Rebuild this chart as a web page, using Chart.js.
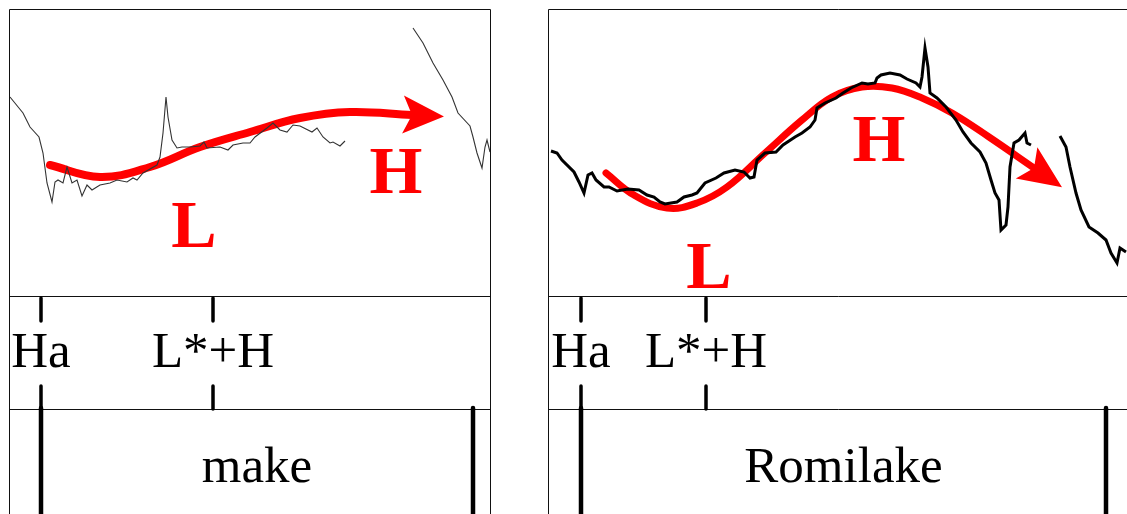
<!DOCTYPE html>
<html><head>
<meta charset="utf-8">
<style>
  html, body { margin: 0; padding: 0; background: #fff; }
  canvas { position: absolute; top: 0; }
  #leftPanel { left: 0; }
  #rightPanel { left: 540px; }
</style>
</head>
<body>
<canvas id="leftPanel" width="500" height="514"></canvas>
<canvas id="rightPanel" width="587" height="514"></canvas>
<script src="https://cdn.jsdelivr.net/npm/chart.js@4/dist/chart.umd.min.js"></script>
<script>
// time in ms, pitch in Hz

// "make" - pitch track, two voiced stretches
var makeT1 = [1,14,21,30,34,38,43,46,49,54,58,63,68,73,78,83,91,101,108,118,124,128,134,148,151,154,157,159,163,168,173,181,191,195,198,211,219,224,234,241,246,258,264,271,278,284,291,303,308,314,321,324,331,336];
var makeHz1 = [249,233,219,209,193,163,144,164,166,163,179,163,166,150,161,156,161,163,166,164,168,166,173,181,189,213,249,229,206,198,199,199,200,204,198,199,196,201,203,203,209,218,223,216,214,221,220,214,218,209,203,204,200,205];
var makeT2 = [404,414,424,434,443,449,461,464,468,473,476,478,481];
var makeHz2 = [318,303,283,266,249,233,220,209,193,178,199,206,194];
// "make" - stylised L*+H contour (arrow)
var makeArrowT = [41,91,141,191,241,291,341,403];
var makeArrowHz = [181,169,179,199,214,228,234,231];

// "Romilake" - pitch track
var romT1 = [3,9,14,26,31,36,40,44,48,56,61,69,80,91,99,106,112,117,129,136,144,149,157,168,176,187,196,202,206,209,217,228,235,247,254,262,267,269,277,288,295,303,314,320,327,329,333,342,352,359,368,372,374,377,380,382,389,398,408,415,423,432,438,443,447,451,453,458,460,462,466,471,477,479,483];
var romHz1 = [195,193,186,174,164,153,171,173,166,159,159,155,157,156,151,149,144,142,144,149,151,153,163,168,173,176,174,168,169,186,193,194,201,209,213,219,226,238,243,248,253,258,263,262,263,268,271,273,271,267,263,259,269,298,279,253,248,239,226,214,203,194,183,166,153,146,116,121,139,179,203,206,213,203,201];
var romT2 = [512,518,522,528,533,541,550,558,563,569,572,578];
var romHz2 = [210,199,179,153,136,119,113,106,93,83,98,94];
var romArrowT = [58,86,119,149,179,217,254,284,314,344,374,404,441,486];
var romArrowHz = [173,151,138,143,159,193,226,249,259,258,248,233,209,178];

// annotation tiers
var makeTones = ['Ha', 'L*+H'];
var makeToneT = [32, 204];
var makeWordBounds = [32, 464];
var makeWord = 'make';
var romTones = ['Ha', 'L*+H'];
var romToneT = [33, 158];
var romWordBounds = [33, 558];
var romWord = 'Romilake';

// red H / L letters on the contour
var makeLetters = ['L', 'H'];
var makeLetterT = [185, 387];
var makeLetterHz = [99, 153];
var romLetters = ['L', 'H'];
var romLetterT = [161, 331];
var romLetterHz = [58, 185];

function pts(ts, hz) {
  return ts.map(function(t, i) { return {x: t, y: hz[i]}; });
}
function track(t1, h1, t2, h2) {
  return pts(t1, h1).concat([{x: (t1[t1.length-1] + t2[0]) / 2, y: null}], pts(t2, h2));
}

var praatPlugin = {
  id: 'praat',
  afterDraw: function(chart, args, o) {
    var ctx = chart.ctx, a = chart.chartArea, x = chart.scales.x, y = chart.scales.y;
    var t1 = a.bottom, t2 = a.bottom + 113, end = chart.height + 5;
    var L = Math.round(a.left) + 0.5, R = o.rightEdge ? Math.round(a.right) - 0.5 : chart.width + 2;
    ctx.save();

    // arrow head on the stylised contour
    var meta = chart.getDatasetMeta(1).data;
    var P = meta[meta.length - 1], Q = meta[meta.length - 2];
    var dx = P.x - Q.x, dy = P.y - Q.y, len = Math.sqrt(dx*dx + dy*dy);
    dx /= len; dy /= len;
    var nx = -dy, ny = dx, hl = o.headLen, hw = o.headWidth;
    ctx.fillStyle = '#ff0000';
    ctx.beginPath();
    ctx.moveTo(P.x + dx*hl, P.y + dy*hl);
    ctx.lineTo(P.x - dx*9 + nx*hw, P.y - dy*9 + ny*hw);
    ctx.lineTo(P.x, P.y);
    ctx.lineTo(P.x - dx*9 - nx*hw, P.y - dy*9 - ny*hw);
    ctx.closePath();
    ctx.fill();

    // red tone letters
    ctx.font = 'bold 68px "Liberation Serif"';
    ctx.textAlign = 'center';
    ctx.textBaseline = 'alphabetic';
    o.letters.forEach(function(s, i) {
      ctx.fillText(s, x.getPixelForValue(o.letterT[i]), y.getPixelForValue(o.letterHz[i]));
    });

    // frame and tier lines
    ctx.strokeStyle = '#111';
    ctx.lineWidth = 1;
    ctx.beginPath();
    ctx.moveTo(L, end); ctx.lineTo(L, Math.round(a.top) + 0.5); ctx.lineTo(R, Math.round(a.top) + 0.5);
    if (o.rightEdge) ctx.lineTo(R, end);
    ctx.moveTo(L, t1 + 0.5); ctx.lineTo(R, t1 + 0.5);
    ctx.moveTo(L, t2 + 0.5); ctx.lineTo(R, t2 + 0.5);
    ctx.stroke();

    // point tier
    ctx.strokeStyle = '#000';
    ctx.fillStyle = '#000';
    ctx.lineCap = 'round';
    ctx.lineWidth = 3.5;
    ctx.font = '51px "Liberation Serif"';
    o.tones.forEach(function(s, i) {
      var px = x.getPixelForValue(o.toneT[i]);
      ctx.beginPath();
      ctx.moveTo(px, t1 + 2); ctx.lineTo(px, t1 + 25);
      ctx.moveTo(px, t1 + 90); ctx.lineTo(px, t2);
      ctx.stroke();
      ctx.fillText(s, px, t1 + 71);
    });

    // interval tier
    ctx.lineWidth = 4.5;
    o.bounds.forEach(function(b) {
      var px = x.getPixelForValue(b);
      ctx.beginPath();
      ctx.moveTo(px, t2 - 1); ctx.lineTo(px, end);
      ctx.stroke();
    });
    var mid = (x.getPixelForValue(o.bounds[0]) + x.getPixelForValue(o.bounds[1])) / 2;
    ctx.fillText(o.word, mid, t2 + 73);
    ctx.restore();
  }
};

function makePanel(id, data, arrow, tMax, pad, lineW, lineCol, arrowW, extra) {
  return new Chart(document.getElementById(id), {
    type: 'line',
    data: {
      datasets: [{
        data: data,
        borderColor: lineCol,
        borderWidth: lineW,
        pointRadius: 0,
        tension: 0,
        spanGaps: false
      }, {
        data: arrow,
        borderColor: '#ff0000',
        borderWidth: arrowW,
        pointRadius: 0,
        tension: 0.4,
        borderCapStyle: 'round'
      }]
    },
    options: {
      responsive: false,
      animation: false,
      events: [],
      layout: { padding: pad },
      scales: {
        x: { type: 'linear', display: false, min: 0, max: tMax },
        y: { type: 'linear', display: false, min: 50, max: 337 }
      },
      plugins: {
        legend: { display: false },
        tooltip: { enabled: false },
        praat: extra
      }
    },
    plugins: [praatPlugin]
  });
}

makePanel('leftPanel', track(makeT1, makeHz1, makeT2, makeHz2), pts(makeArrowT, makeArrowHz),
  482, {left: 9, right: 9, top: 9, bottom: 218}, 1.1, '#333', 8,
  {rightEdge: true, headLen: 32, headWidth: 19, letters: makeLetters, letterT: makeLetterT, letterHz: makeLetterHz,
   tones: makeTones, toneT: makeToneT, bounds: makeWordBounds, word: makeWord});

makePanel('rightPanel', track(romT1, romHz1, romT2, romHz2), pts(romArrowT, romArrowHz),
  579, {left: 8, right: 0, top: 9, bottom: 218}, 3, '#000', 7,
  {rightEdge: false, headLen: 34, headWidth: 19, letters: romLetters, letterT: romLetterT, letterHz: romLetterHz,
   tones: romTones, toneT: romToneT, bounds: romWordBounds, word: romWord});
</script>
</body></html>
